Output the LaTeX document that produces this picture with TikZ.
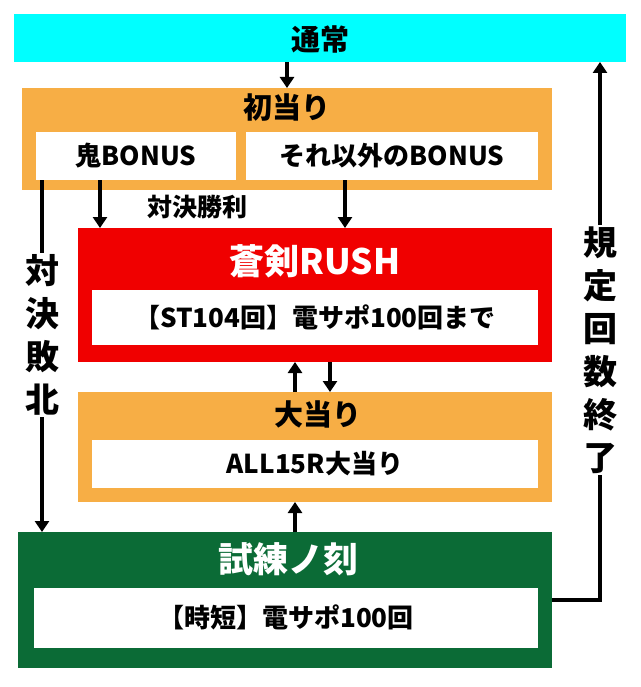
\documentclass[tikz,border=0pt]{standalone}
\usepackage{fontspec}
\setmainfont{Noto Sans CJK JP}[BoldFont={* Black}]
\usetikzlibrary{arrows.meta}
\definecolor{cy}{HTML}{00FFFF}
\definecolor{org}{HTML}{F7AE45}
\definecolor{rd}{HTML}{F00000}
\definecolor{gr}{HTML}{0B6B36}
\tikzset{
 ar/.style={line width=4pt,-{Triangle[length=11pt,width=14pt]}},
 ttl/.style={font=\bfseries\fontsize{29}{31}\selectfont},
 inn/.style={font=\bfseries\fontsize{26}{28}\selectfont},
 vt/.style={font=\bfseries\fontsize{34}{43}\selectfont,fill=white,align=center,inner sep=2pt}
}
\begin{document}
\begin{tikzpicture}[x=1pt,y=-1pt]
\useasboundingbox (0,0) rectangle (640,687);
\fill[cy] (14,14) rectangle (626,62);
\node[ttl] (tsu) at (320,39) {通常};
\fill[org] (22,88) rectangle (552,190);
\node[ttl] (hatsu) at (287,108) {初当り};
\fill[white] (36,132) rectangle (236,180);
\node[inn] (oni) at (136,156) {鬼BONUS};
\fill[white] (246,132) rectangle (538,180);
\node[inn] (sore) at (392,156) {それ以外のBONUS};
\fill[rd] (78,228) rectangle (552,362);
\node[white,font=\bfseries\fontsize{35}{37}\selectfont] (rush) at (315,261) {蒼剣RUSH};
\fill[white] (92,290) rectangle (538,345);
\node[inn] (st) at (315,317) {【ST104回】電サポ100回まで};
\fill[org] (78,392) rectangle (552,502);
\node[ttl] (oo) at (318,414) {大当り};
\fill[white] (92,440) rectangle (538,488);
\node[inn] (all) at (315,464) {ALL15R大当り};
\fill[gr] (18,532) rectangle (552,668);
\node[white,font=\bfseries\fontsize{35}{37}\selectfont] (shi) at (288,559) {試練ノ刻};
\fill[white] (34,588) rectangle (538,648);
\node[inn] (jitan) at (286,617) {【時短】電サポ100回};
% connectors
\coordinate (a1) at (287,62); \coordinate (a2) at (287,88);
\draw[ar] (a1) -- (a2);
\coordinate (b1) at (100,180); \coordinate (b2) at (100,228);
\draw[ar] (b1) -- (b2);
\coordinate (c1) at (345,180); \coordinate (c2) at (345,228);
\draw[ar] (c1) -- (c2);
\node[font=\bfseries\fontsize{25}{27}\selectfont] (win) at (197,207) {対決勝利};
\coordinate (d1) at (42,180); \coordinate (d2) at (42,532);
\draw[ar] (d1) -- (d2);
\node[vt] (lose) at (42,335) {対\\決\\敗\\北};
\coordinate (e1) at (295,392); \coordinate (e2) at (295,362);
\draw[ar] (e1) -- (e2);
\coordinate (f1) at (330,362); \coordinate (f2) at (330,392);
\draw[ar] (f1) -- (f2);
\coordinate (g1) at (295,532); \coordinate (g2) at (295,502);
\draw[ar] (g1) -- (g2);
\coordinate (h1) at (552,600); \coordinate (h2) at (600,600); \coordinate (h3) at (600,62);
\draw[ar] (h1) -- (h2) -- (h3);
\node[vt] (kitei) at (600,350) {規\\定\\回\\数\\終\\了};
\end{tikzpicture}
\end{document}
